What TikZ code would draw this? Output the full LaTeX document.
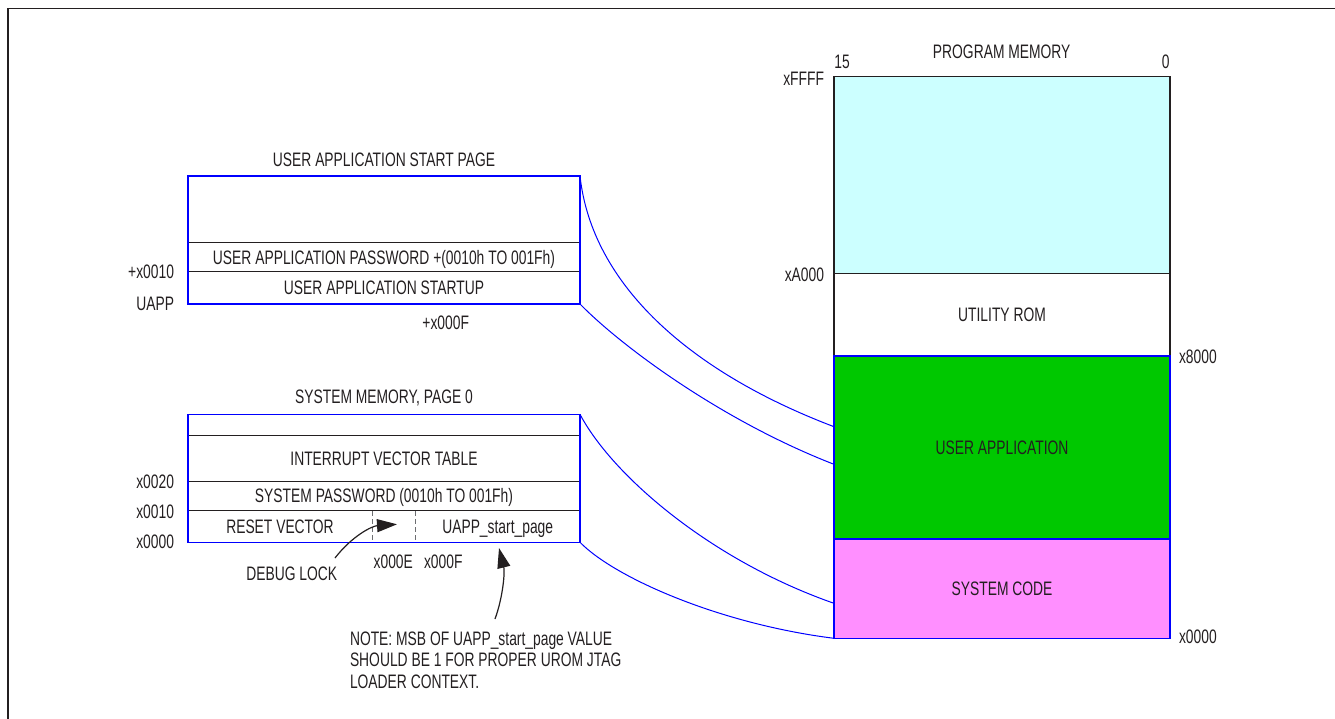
\documentclass[tikz,border=0pt]{standalone}
\usepackage{fontspec}
\setmainfont{Liberation Sans}[FakeStretch=0.71]
\usetikzlibrary{arrows.meta}
\definecolor{ink}{HTML}{231F20}
\definecolor{linkblue}{HTML}{0000FF}
\definecolor{romcyan}{HTML}{CCFFFF}
\definecolor{appgreen}{HTML}{00C800}
\definecolor{syspink}{HTML}{FF8FFF}
\definecolor{dashgray}{HTML}{6D6E71}

\begin{document}
\begin{tikzpicture}[x=1pt,y=-1pt,
  font=\fontsize{19.5}{21.7}\selectfont, text=ink,
  every node/.style={text height=14pt, text depth=0pt, inner sep=0pt, outer sep=0pt},
  row/.style={draw=ink, line width=1pt, minimum width=392pt, anchor=north west},
  pagebox/.style={draw=linkblue, line width=1.3pt},
  memblock/.style={minimum width=336pt, anchor=north west, line width=1.3pt},
  addr/.style={anchor=east},
  raddr/.style={anchor=west},
  link/.style={draw=linkblue, line width=1pt},
  divider/.style={draw=dashgray, line width=1.2pt, dash pattern=on 5pt off 3pt},
  callout/.style={draw=ink, line width=1.2pt, -{Triangle[length=20pt,width=13pt]}},
  frame/.style={draw=ink, line width=1.6pt}]

\useasboundingbox (0,0) rectangle (1335,719);
\draw[frame] (8,719) -- (8,8.5) -- (1335,8.5);

% ---------- user application start page ----------
\node (uaTitle) at (384,160) {USER APPLICATION START PAGE};
\node[row, minimum height=66.7pt] (uaTop) at (188,176) {};
\node[row, minimum height=29pt] (uaPwd) at (188,242.7) {USER APPLICATION PASSWORD +(0010h TO 001Fh)};
\node[row, minimum height=32.3pt] (uaStart) at (188,271.7) {USER APPLICATION STARTUP};
\draw[pagebox] (uaTop.north west) rectangle (uaStart.south east);
\node[addr] (uaOff) at (174,272) {+x0010};
\node[addr] (uaBase) at (174,303) {UAPP};
\node (uaEnd) at (445.7,322) {+x000F};

% ---------- system memory, page 0 ----------
\node (svTitle) at (384,396.7) {SYSTEM MEMORY, PAGE 0};
\node[row, minimum height=21.4pt, line width=1.5pt] (svTop) at (188,414.3) {};
\node[row, minimum height=45.3pt] (svIvt) at (188,435.7) {INTERRUPT VECTOR TABLE};
\node[row, minimum height=29pt] (svPwd) at (188,481) {SYSTEM PASSWORD (0010h TO 001Fh)};
\node[row, minimum height=32.3pt] (svReset) at (188,510) {};
\draw[pagebox] (svTop.north west) rectangle (svReset.south east);
\node (rv) at (280,526.2) {RESET VECTOR};
\node (usp) at (497.7,526.2) {UAPP\_start\_page};
\draw[divider] (372.3,511) -- (372.3,542);
\draw[divider] (415.7,511) -- (415.7,542);
\node[addr] (sv20) at (174,481.7) {x0020};
\node[addr] (sv10) at (174,511) {x0010};
\node[addr] (sv00) at (174,541.7) {x0000};
\node (svE) at (393.3,561.7) {x000E};
\node (svF) at (443.3,561.7) {x000F};
\node (dbg) at (291.7,573.3) {DEBUG LOCK};
\node[anchor=west] (note1) at (350,638.3) {NOTE: MSB OF UAPP\_start\_page VALUE};
\node[anchor=west] (note2) at (350,659.8) {SHOULD BE 1 FOR PROPER UROM JTAG};
\node[anchor=west] (note3) at (350,681.3) {LOADER CONTEXT.};

% callout arrows
\coordinate (dbgTail) at (335,558);
\coordinate (dbgTip) at (397,524.3);
\draw[callout] (dbgTail) .. controls (352,536) and (372,526) .. (dbgTip);
\coordinate (uspTail) at (495,619);
\coordinate (uspTip) at (499,548);
\draw[callout] (uspTail) .. controls (503,597) and (505,572) .. (uspTip);

% ---------- program memory ----------
\node (pmTitle) at (1001.7,51.7) {PROGRAM MEMORY};
\node (bit15) at (842,61.7) {15};
\node (bit0) at (1165.7,61.7) {0};
\node[memblock, draw=ink, fill=romcyan, minimum height=196.6pt] (free) at (834,76.7) {};
\node[memblock, draw=ink, fill=white, minimum height=82.7pt] (urom) at (834,273.3) {UTILITY ROM};
\node[memblock, draw=linkblue, fill=appgreen, minimum height=183pt] (uapp) at (834,356) {USER APPLICATION};
\node[memblock, draw=linkblue, fill=syspink, minimum height=99.3pt] (sysc) at (834,539) {SYSTEM CODE};
\node[addr] (aFFFF) at (824,79) {xFFFF};
\node[addr] (aA000) at (824,274) {xA000};
\node[raddr] (a8000) at (1179,356.7) {x8000};
\node[raddr] (a0000) at (1179,636) {x0000};

% ---------- mapping curves ----------
\coordinate (uappHi) at (834,426.7);
\coordinate (uappLo) at (834,464.3);
\coordinate (syscHi) at (834,603.3);
\draw[link] (uaTop.north east) .. controls (592,285) and (690,372) .. (uappHi);
\draw[link] (uaStart.south east) .. controls (620,345) and (720,420) .. (uappLo);
\draw[link] (svTop.north east) .. controls (612,475) and (710,560) .. (syscHi);
\draw[link] (svReset.south east) .. controls (615,578) and (720,624) .. (sysc.south west);
\end{tikzpicture}
\end{document}
